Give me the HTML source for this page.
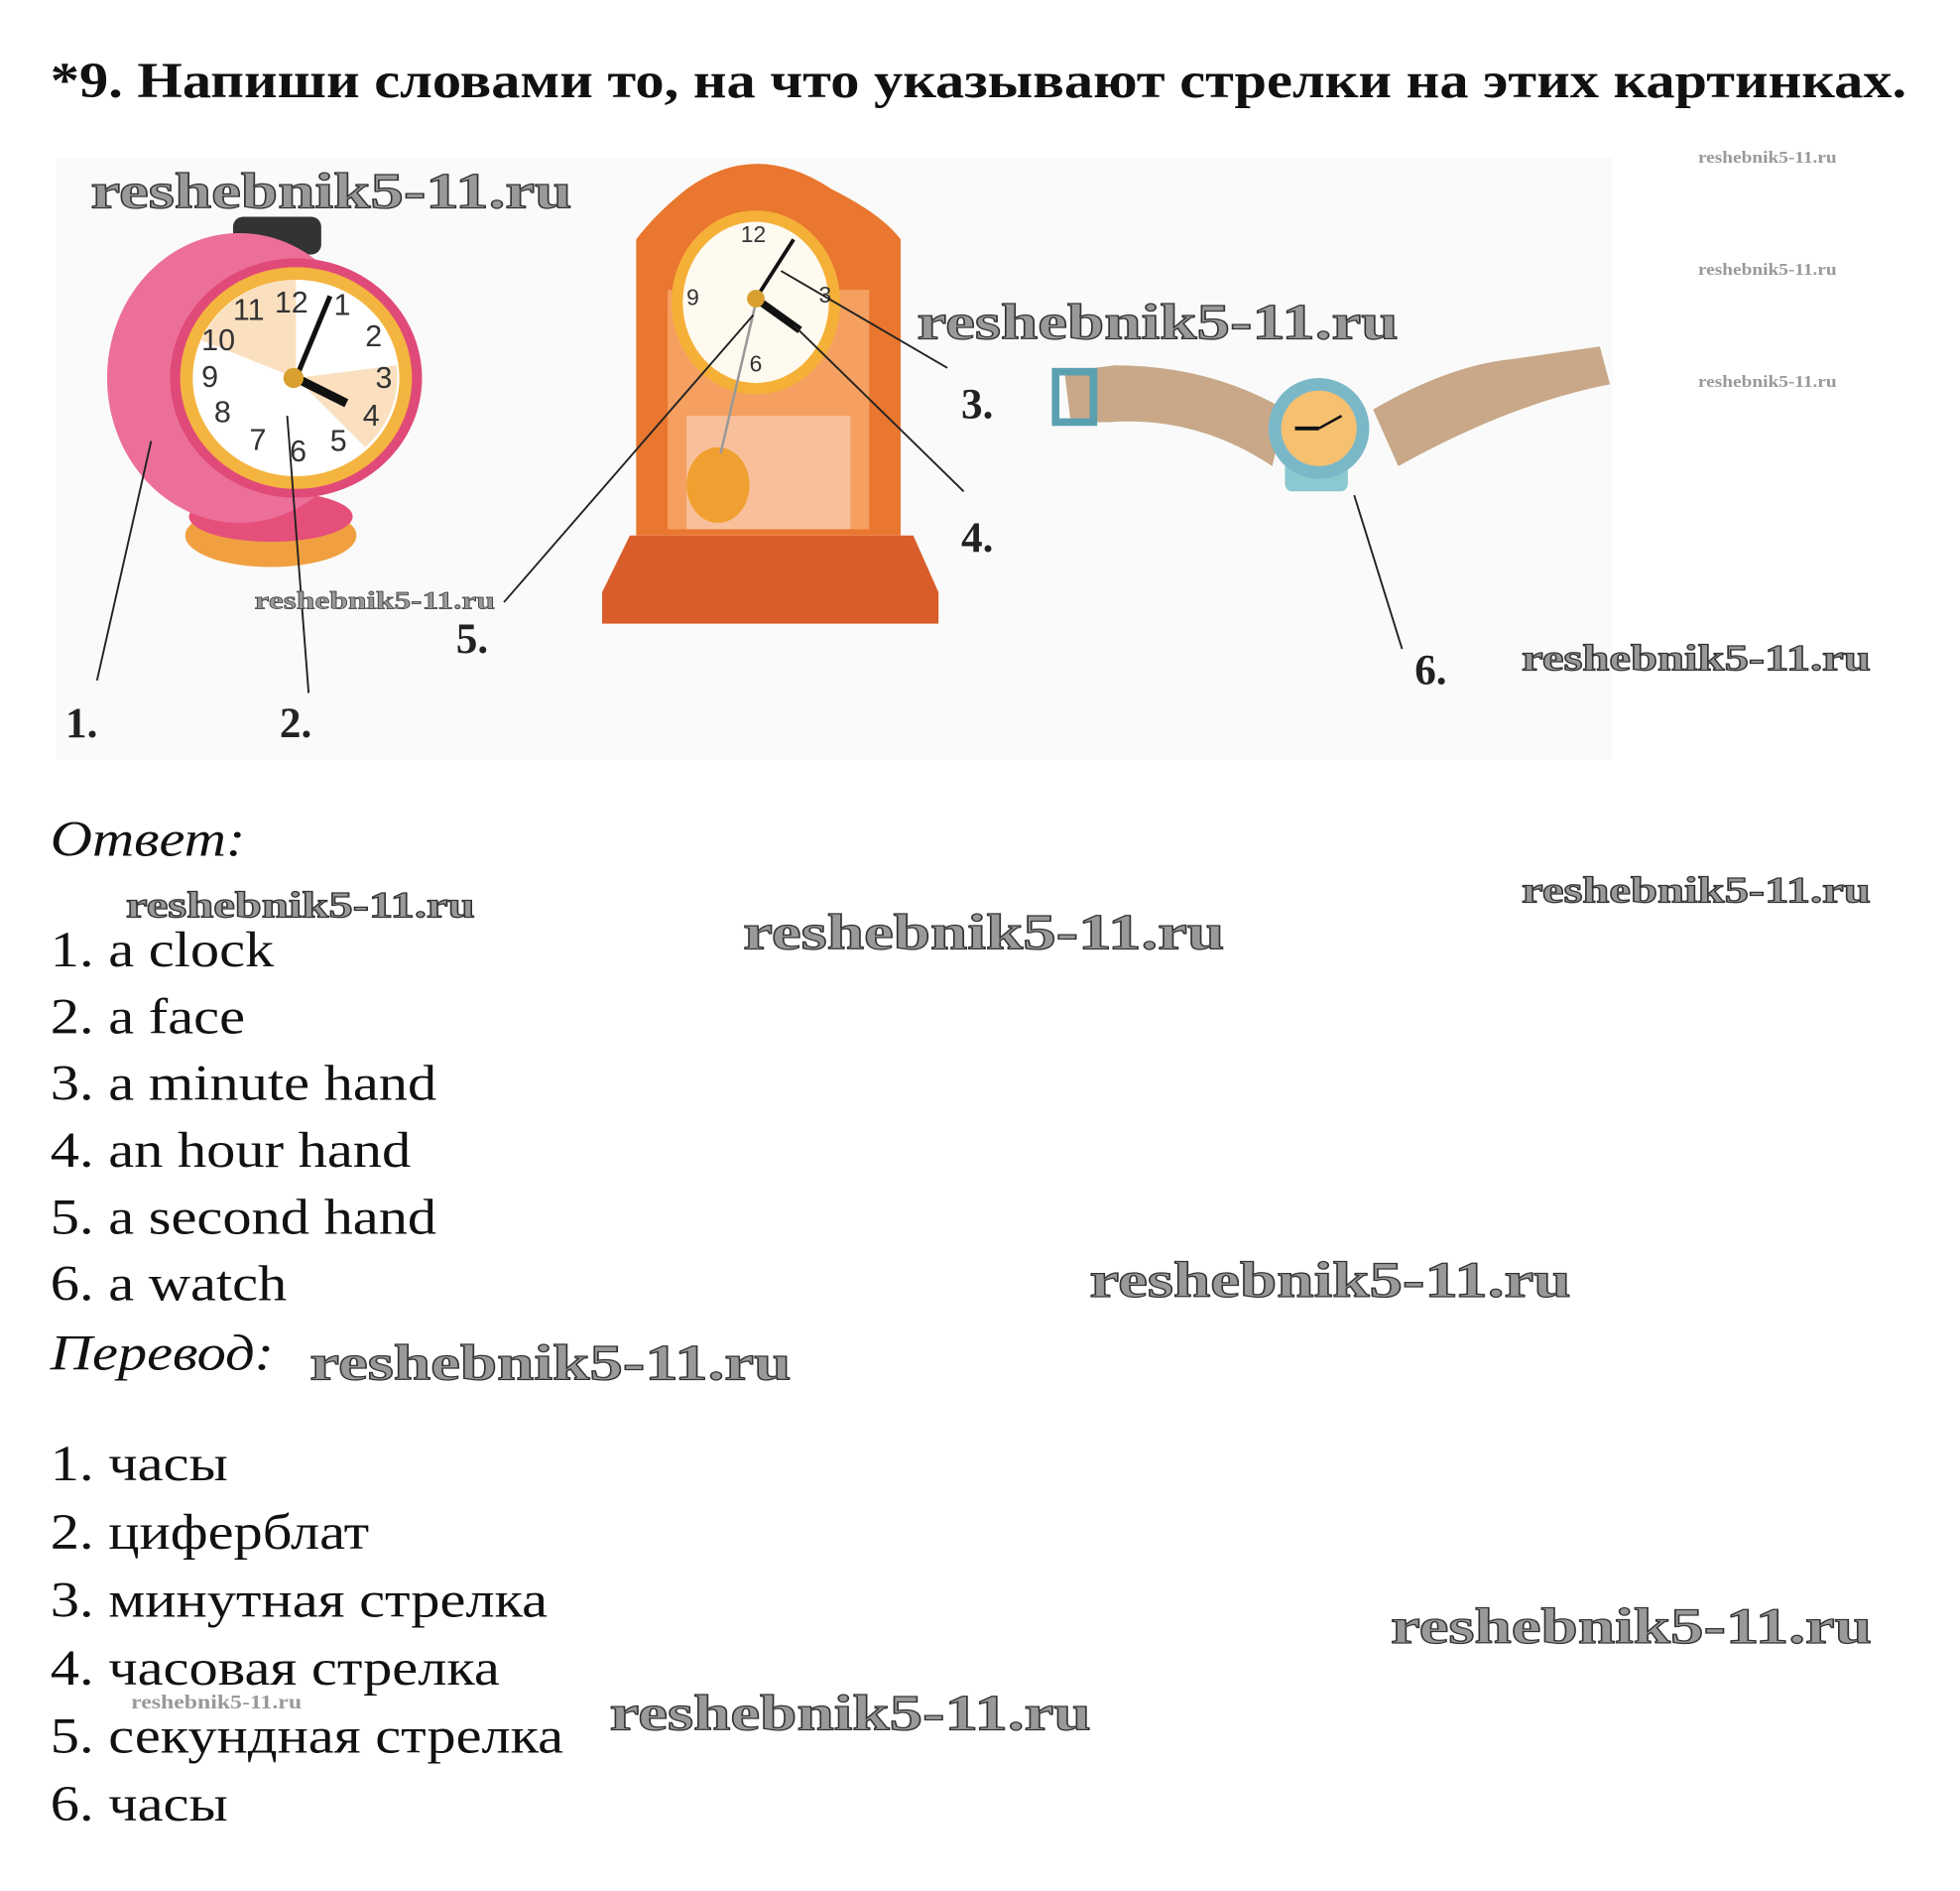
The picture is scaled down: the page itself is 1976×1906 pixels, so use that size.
<!DOCTYPE html>
<html><head><meta charset="utf-8"><style>
html,body{margin:0;padding:0;background:#fff;overflow:hidden}
#w{position:absolute;left:0;top:0;width:1556px;height:1501px;transform:scale(1.27);transform-origin:0 0;font-family:"Liberation Serif",serif;color:#111}
.t{position:absolute;white-space:nowrap;transform:scaleX(1.15);transform-origin:0 0}
.wm{position:absolute;white-space:nowrap;font-family:"Liberation Serif",serif;font-weight:bold;color:#999;-webkit-text-stroke:1px #333;transform:scaleX(1.32);transform-origin:0 0}
.sm{transform:scaleX(1.17)}
.ln{position:absolute;left:40px;font-size:40px;line-height:40px;white-space:nowrap;transform:scaleX(1.15);transform-origin:0 0}
</style></head><body><div id="w">
<div class="t" style="left:40px;top:40px;font-size:40px;font-weight:bold">*9. Напиши словами то, на что указывают стрелки на этих картинках.</div>
<svg style="position:absolute;left:0;top:0" width="1556" height="620">
<rect x="45" y="125" width="1235" height="478" fill="#fafafa"/>
<rect x="185" y="172" width="70" height="30" rx="8" fill="#333"/>
<ellipse cx="215" cy="425" rx="68" ry="25" fill="#f0a040"/>
<ellipse cx="215" cy="410" rx="65" ry="20" fill="#e5507a"/>
<ellipse cx="190" cy="300" rx="105" ry="115" fill="#ec6f9a"/>
<ellipse cx="235" cy="300" rx="100" ry="95" fill="#e04a78"/>
<ellipse cx="235" cy="300" rx="92" ry="88" fill="#f4b540"/>
<ellipse cx="235" cy="300" rx="82" ry="78" fill="#fff"/>
<path d="M235 300 L235 222 A82 78 0 0 0 160 270 Z" fill="#fbe0c0"/>
<path d="M235 300 L315 290 A82 78 0 0 1 290 355 Z" fill="#fbe0c0"/>
<line x1="235" y1="300" x2="262" y2="235" stroke="#111" stroke-width="4"/>
<line x1="235" y1="300" x2="275" y2="320" stroke="#111" stroke-width="7"/>
<circle cx="233" cy="300" r="8" fill="#d9a030"/>
<g font-family="Liberation Sans" font-size="24" fill="#333"><text x="218" y="248">12</text><text x="265" y="250">1</text><text x="290" y="275">2</text><text x="298" y="308">3</text><text x="288" y="338">4</text><text x="262" y="358">5</text><text x="230" y="366">6</text><text x="198" y="357">7</text><text x="170" y="335">8</text><text x="160" y="307">9</text><text x="160" y="278">10</text><text x="185" y="254">11</text></g>
<line x1="120" y1="350" x2="77" y2="540" stroke="#222" stroke-width="1.5"/>
<line x1="228" y1="330" x2="245" y2="550" stroke="#222" stroke-width="1.5"/>
<path d="M478 495 L745 495 L745 470 L725 425 L500 425 L478 470 Z" fill="#d95d2a"/>
<path d="M505 425 L505 190 Q520 170 545 150 Q600 110 660 150 Q700 170 715 190 L715 425 Z" fill="#e9772f"/>
<rect x="530" y="230" width="160" height="190" fill="#f5a060"/>
<rect x="545" y="330" width="130" height="90" fill="#f8c09a"/>
<ellipse cx="600" cy="240" rx="67" ry="73" fill="#f5b038"/>
<ellipse cx="600" cy="240" rx="58" ry="64" fill="#fffaf0"/>
<ellipse cx="570" cy="385" rx="25" ry="30" fill="#f0a030"/>
<line x1="600" y1="240" x2="572" y2="360" stroke="#999" stroke-width="2"/>
<line x1="600" y1="237" x2="630" y2="190" stroke="#111" stroke-width="3"/>
<line x1="600" y1="237" x2="635" y2="262" stroke="#111" stroke-width="6"/>
<circle cx="600" cy="237" r="7" fill="#d9a030"/>
<g font-family="Liberation Sans" font-size="18" fill="#333"><text x="588" y="192">12</text><text x="545" y="242">9</text><text x="650" y="240">3</text><text x="595" y="295">6</text></g>
<line x1="620" y1="215" x2="752" y2="292" stroke="#222" stroke-width="1.5"/>
<line x1="630" y1="258" x2="765" y2="390" stroke="#222" stroke-width="1.5"/>
<line x1="598" y1="250" x2="400" y2="478" stroke="#222" stroke-width="1.5"/>
<path d="M845 295 L885 290 Q960 290 1020 325 L1010 370 Q950 330 880 335 L850 335 Z" fill="#c8a888"/>
<path d="M1090 325 Q1150 290 1200 285 L1270 275 L1278 305 Q1200 320 1110 370 Z" fill="#c8a888"/>
<rect x="838" y="295" width="30" height="40" fill="none" stroke="#5aa0b0" stroke-width="6"/>
<rect x="1020" y="355" width="50" height="35" rx="6" fill="#8cc8d0"/>
<circle cx="1047" cy="340" r="40" fill="#7ab8c8"/>
<circle cx="1047" cy="340" r="30" fill="#f5c070"/>
<line x1="1047" y1="340" x2="1065" y2="330" stroke="#111" stroke-width="2"/>
<line x1="1047" y1="340" x2="1028" y2="340" stroke="#111" stroke-width="3"/>
<line x1="1075" y1="393" x2="1113" y2="515" stroke="#222" stroke-width="1.5"/>
<g font-family="Liberation Serif" font-weight="bold" font-size="34" fill="#222"><text x="52" y="585">1.</text><text x="222" y="585">2.</text><text x="763" y="332">3.</text><text x="763" y="438">4.</text><text x="362" y="518">5.</text><text x="1123" y="543">6.</text></g>
</svg>
<div class="wm" style="left:72px;top:128px;font-size:40px">reshebnik5-11.ru</div>
<div class="wm" style="left:728px;top:232px;font-size:40px">reshebnik5-11.ru</div>
<div class="wm" style="left:202px;top:466px;font-size:20px;-webkit-text-stroke:0.5px #333">reshebnik5-11.ru</div>
<div class="wm" style="left:1208px;top:507px;font-size:29px">reshebnik5-11.ru</div>
<div class="wm sm" style="left:1348px;top:117px;font-size:13px;-webkit-text-stroke:0">reshebnik5-11.ru</div>
<div class="wm sm" style="left:1348px;top:206px;font-size:13px;-webkit-text-stroke:0">reshebnik5-11.ru</div>
<div class="wm sm" style="left:1348px;top:295px;font-size:13px;-webkit-text-stroke:0">reshebnik5-11.ru</div>
<div class="ln" style="top:646px;font-style:italic">Ответ:</div>
<div class="wm" style="left:100px;top:703px;font-size:29px">reshebnik5-11.ru</div>
<div class="wm" style="left:590px;top:716px;font-size:40px">reshebnik5-11.ru</div>
<div class="wm" style="left:1208px;top:691px;font-size:29px">reshebnik5-11.ru</div>
<div class="ln" style="top:734px">1. a clock</div>
<div class="ln" style="top:787px">2. a face</div>
<div class="ln" style="top:840px">3. a minute hand</div>
<div class="ln" style="top:893px">4. an hour hand</div>
<div class="ln" style="top:946px">5. a second hand</div>
<div class="ln" style="top:999px">6. a watch</div>
<div class="wm" style="left:865px;top:992px;font-size:40px">reshebnik5-11.ru</div>
<div class="ln" style="top:1054px;font-style:italic">Перевод:</div>
<div class="wm" style="left:246px;top:1058px;font-size:40px">reshebnik5-11.ru</div>
<div class="ln" style="top:1142px">1. часы</div>
<div class="ln" style="top:1196px">2. циферблат</div>
<div class="ln" style="top:1250px">3. минутная стрелка</div>
<div class="ln" style="top:1304px">4. часовая стрелка</div>
<div class="ln" style="top:1358px">5. секундная стрелка</div>
<div class="ln" style="top:1412px">6. часы</div>
<div class="wm" style="left:1104px;top:1267px;font-size:40px">reshebnik5-11.ru</div>
<div class="wm" style="left:484px;top:1336px;font-size:40px">reshebnik5-11.ru</div>
<div class="wm sm" style="left:104px;top:1343px;font-size:16px;-webkit-text-stroke:0">reshebnik5-11.ru</div>
</div></body></html>
